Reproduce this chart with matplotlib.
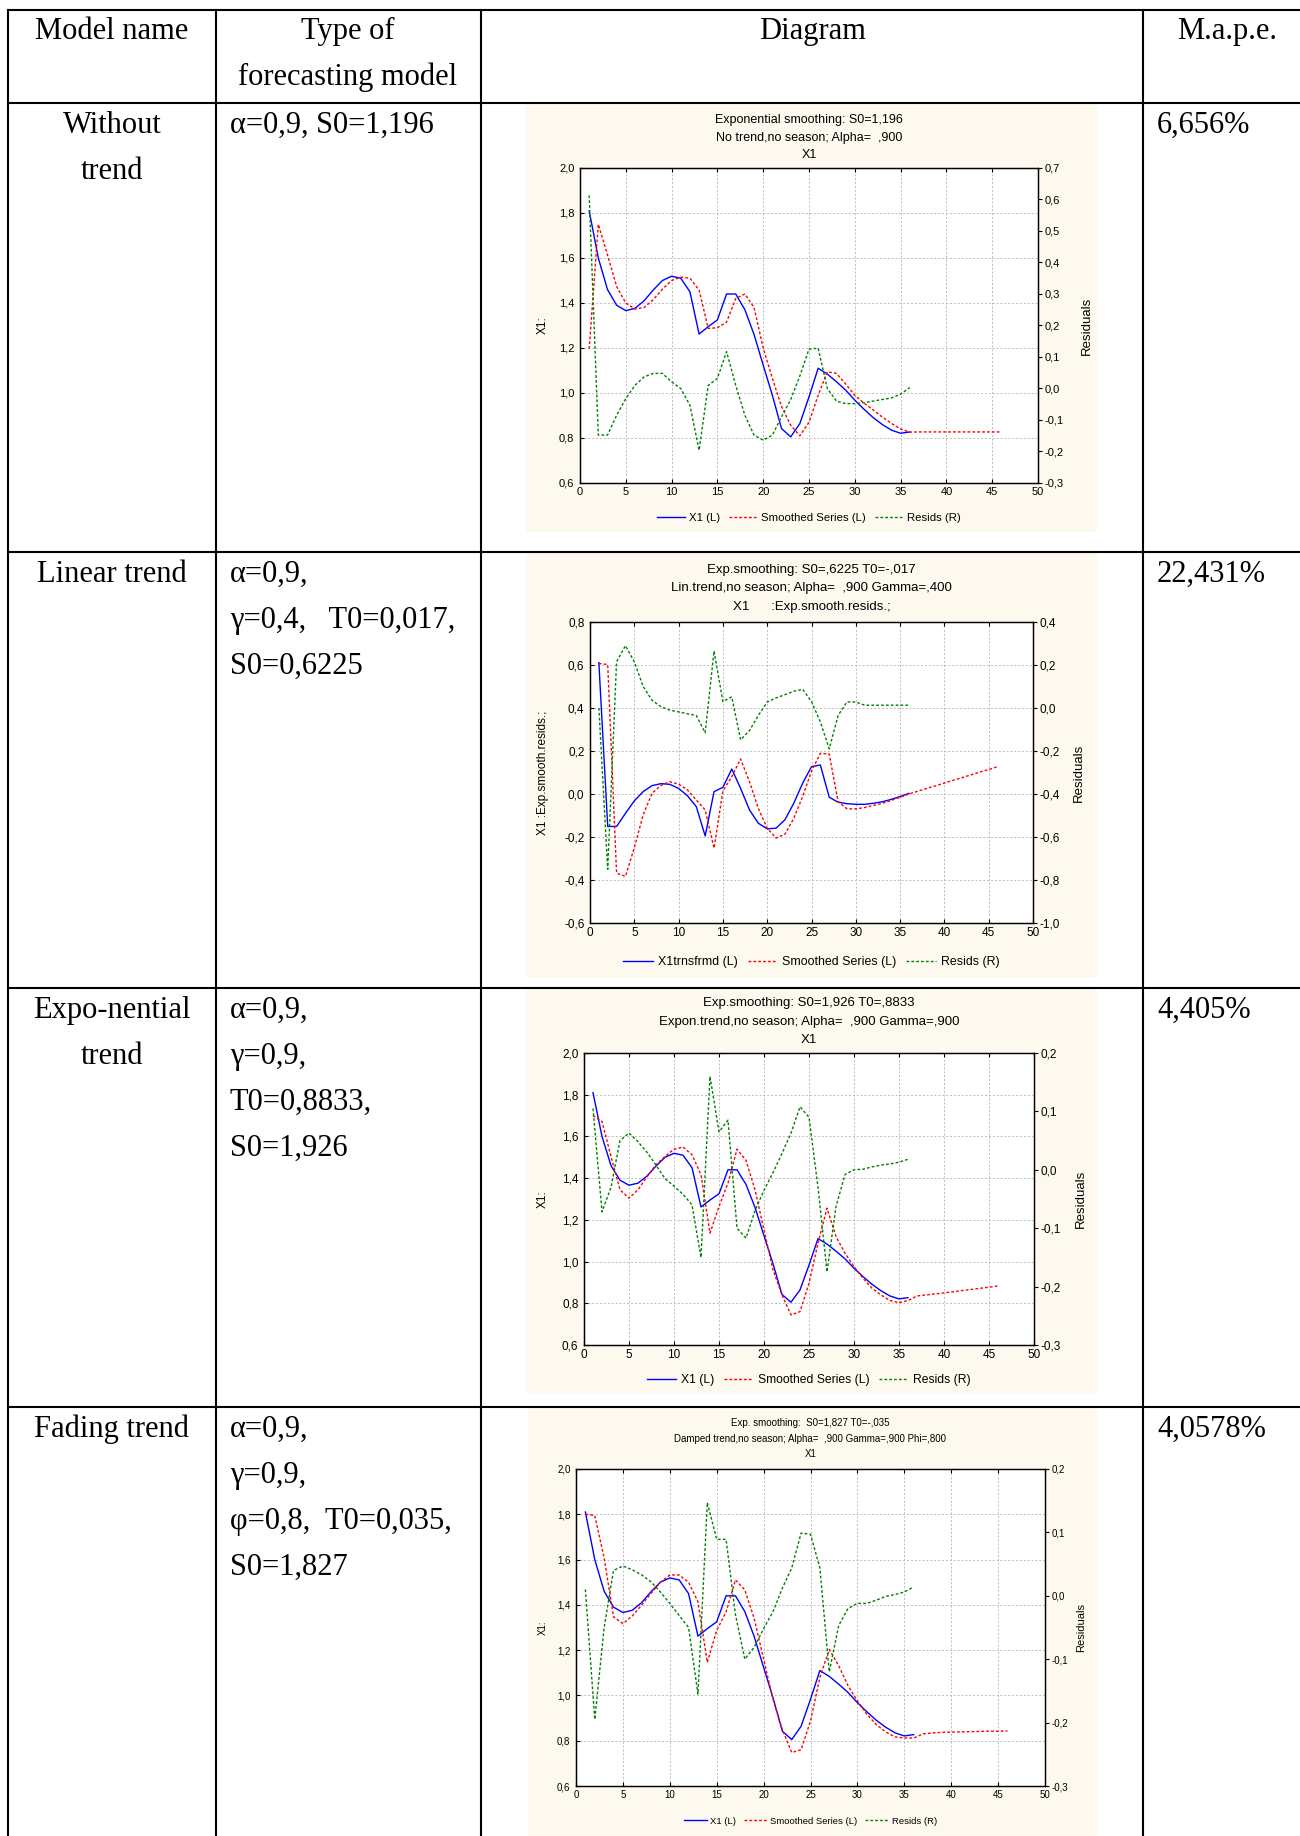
import matplotlib.pyplot as plt
from matplotlib.ticker import FuncFormatter, MultipleLocator

# ---- data ----
t_obs = list(range(1, 37))
t_fc = list(range(1, 47))

x1 = [1.81, 1.60, 1.46, 1.39, 1.366, 1.376, 1.41, 1.458, 1.50, 1.519, 1.51, 1.45,
      1.262, 1.295, 1.325, 1.44, 1.44, 1.37, 1.26, 1.124, 0.99, 0.842, 0.805, 0.864,
      0.983, 1.11, 1.084, 1.05, 1.013, 0.968, 0.928, 0.891, 0.86, 0.835, 0.821, 0.827]

# row 1 - no trend
smooth_1 = [1.196, 1.75, 1.614, 1.473, 1.40, 1.373, 1.38, 1.415, 1.462, 1.50, 1.515, 1.51,
            1.458, 1.287, 1.29, 1.315, 1.42, 1.44, 1.38, 1.20, 1.065, 0.94, 0.857, 0.81,
            0.87, 0.99, 1.094, 1.087, 1.04, 0.99, 0.955, 0.925, 0.893, 0.865, 0.84, 0.826,
            0.827, 0.827, 0.827, 0.827, 0.827, 0.827, 0.827, 0.827, 0.827, 0.827]
resid_1 = [0.613, -0.148, -0.148, -0.085, -0.032, 0.01, 0.037, 0.048, 0.048, 0.021, 0.0, -0.053,
           -0.196, 0.01, 0.032, 0.117, 0.01, -0.085, -0.148, -0.164, -0.148, -0.09, -0.035, 0.04,
           0.125, 0.128, 0.0, -0.04, -0.048, -0.048, -0.045, -0.04, -0.035, -0.03, -0.018, 0.003]

# row 2 - linear trend
x1_trans = [0.611, -0.151, -0.151, -0.09, -0.032, 0.011, 0.039, 0.048, 0.045, 0.026, -0.008, -0.059,
            -0.195, 0.011, 0.031, 0.116, 0.026, -0.074, -0.136, -0.162, -0.159, -0.12, -0.043, 0.05,
            0.127, 0.135, -0.015, -0.038, -0.045, -0.048, -0.048, -0.043, -0.036, -0.025, -0.012, 0.003]
smooth_2 = [0.607, 0.602, -0.368, -0.383, -0.25, -0.097, 0.003, 0.04, 0.057, 0.046, 0.019, -0.028,
            -0.074, -0.252, 0.014, 0.081, 0.163, 0.057, -0.067, -0.159, -0.205, -0.187, -0.113, -0.012,
            0.107, 0.189, 0.186, -0.035, -0.069, -0.069, -0.063, -0.053, -0.043, -0.03, -0.015, 0.0,
            0.013, 0.026, 0.038, 0.051, 0.064, 0.076, 0.089, 0.102, 0.114, 0.127]
resid_2 = [0.0, -0.75, 0.215, 0.29, 0.215, 0.10, 0.036, 0.006, -0.01, -0.018, -0.027, -0.035,
           -0.115, 0.265, 0.03, 0.052, -0.148, -0.105, -0.035, 0.028, 0.047, 0.062, 0.078, 0.087,
           0.03, -0.065, -0.19, -0.035, 0.028, 0.028, 0.013, 0.013, 0.013, 0.013, 0.013, 0.013]

# row 3 - exponential trend
smooth_3 = [1.70, 1.672, 1.504, 1.344, 1.304, 1.344, 1.408, 1.464, 1.504, 1.539, 1.549, 1.512,
            1.416, 1.136, 1.264, 1.376, 1.539, 1.485, 1.344, 1.152, 0.96, 0.84, 0.744, 0.76,
            0.896, 1.088, 1.256, 1.12, 1.04, 0.976, 0.92, 0.872, 0.84, 0.813, 0.803, 0.813,
            0.835, 0.840, 0.845, 0.850, 0.855, 0.861, 0.866, 0.872, 0.877, 0.883]
resid_3 = [0.105, -0.072, -0.03, 0.05, 0.063, 0.048, 0.03, 0.008, -0.015, -0.028, -0.042, -0.06,
           -0.15, 0.16, 0.065, 0.085, -0.10, -0.117, -0.07, -0.035, -0.005, 0.028, 0.063, 0.108,
           0.09, -0.03, -0.175, -0.063, -0.008, 0.0, 0.001, 0.005, 0.008, 0.01, 0.013, 0.018]

# row 4 - damped trend
smooth_4 = [1.80, 1.795, 1.607, 1.347, 1.317, 1.351, 1.399, 1.451, 1.50, 1.532, 1.532, 1.50,
            1.414, 1.146, 1.287, 1.369, 1.51, 1.466, 1.339, 1.161, 0.983, 0.849, 0.748, 0.76,
            0.887, 1.08, 1.203, 1.132, 1.043, 0.976, 0.917, 0.872, 0.839, 0.817, 0.812, 0.812,
            0.83, 0.834, 0.837, 0.838, 0.839, 0.840, 0.841, 0.842, 0.842, 0.843]
resid_4 = [0.01, -0.195, -0.05, 0.04, 0.047, 0.041, 0.033, 0.022, 0.006, -0.012, -0.031, -0.05,
           -0.155, 0.147, 0.089, 0.089, -0.03, -0.10, -0.081, -0.052, -0.025, 0.012, 0.044, 0.099,
           0.097, 0.044, -0.12, -0.047, -0.02, -0.012, -0.012, -0.007, -0.001, 0.002, 0.006, 0.014]

# table texts
header = ['Model name', 'Type of', 'forecasting model', 'Diagram', 'M.a.p.e.']
model_names = [['Without', 'trend'], ['Linear trend'], ['Expo-nential', 'trend'], ['Fading trend']]
model_params = [['α=0,9, S0=1,196'],
                ['α=0,9,', 'γ=0,4,   T0=0,017,', 'S0=0,6225'],
                ['α=0,9,', 'γ=0,9,', 'T0=0,8833,', 'S0=1,926'],
                ['α=0,9,', 'γ=0,9,', 'φ=0,8,  T0=0,035,', 'S0=1,827']]
mape = ['6,656%', '22,431%', '4,405%', '4,0578%']

chart_titles = [
    ['Exponential smoothing: S0=1,196', 'No trend,no season; Alpha=  ,900', 'X1'],
    ['Exp.smoothing: S0=,6225 T0=-,017', 'Lin.trend,no season; Alpha=  ,900 Gamma=,400',
     'X1      :Exp.smooth.resids.;'],
    ['Exp.smoothing: S0=1,926 T0=,8833', 'Expon.trend,no season; Alpha=  ,900 Gamma=,900', 'X1'],
    ['Exp. smoothing:  S0=1,827 T0=-,035', 'Damped trend,no season; Alpha=  ,900 Gamma=,900 Phi=,800', 'X1'],
]
blue_labels = ['X1 (L)', 'X1trnsfrmd (L)', 'X1 (L)', 'X1 (L)']
left_labels = ['X1:', 'X1 :Exp.smooth.resids.;', 'X1:', 'X1:']
blue_series = [x1, x1_trans, x1, x1]
red_series = [smooth_1, smooth_2, smooth_3, smooth_4]
green_series = [resid_1, resid_2, resid_3, resid_4]
left_lims = [(0.6, 2.0), (-0.6, 0.8), (0.6, 2.0), (0.6, 2.0)]
right_lims = [(-0.3, 0.7), (-1.0, 0.4), (-0.3, 0.2), (-0.3, 0.2)]
right_steps = [0.1, 0.2, 0.1, 0.1]

# ---- layout (pixels) ----
W, H = 1300, 1836
fig = plt.figure(figsize=(13, 18.36), dpi=100)
bg = fig.add_axes([0, 0, 1, 1])
bg.set_xlim(0, W)
bg.set_ylim(H, 0)
bg.axis('off')

col_x = [8, 216, 481, 1143]
row_y = [10, 103, 552, 988, 1407]
panels = [(526, 104, 1097, 532), (526, 553, 1097, 977), (526, 989, 1097, 1394), (528, 1408, 1097, 1836)]
axes_box = [(580, 168, 1038, 483), (590, 622, 1033, 923), (584, 1053, 1034, 1345), (576, 1469, 1045, 1786)]
title_y = [(120, 138, 155), (570, 588, 607), (1003, 1022, 1040), (1423, 1439, 1454)]
legend_y = [518, 962, 1380, 1821]
lab_x = [(543, 1087), (543, 1079), (543, 1081), (543, 1081)]
tick_fs = [8, 8.5, 8.5, 7]
title_fs = [9, 9.5, 9.5, 7]
legend_fs = [8.2, 8.9, 8.7, 6.8]
label_fs = [9.5, 9.5, 9.5, 8]

for p in panels:
    bg.add_patch(plt.Rectangle((p[0], p[1]), p[2] - p[0], p[3] - p[1],
                               facecolor='#fdf9ee', edgecolor='none', zorder=0))

lw = 1.5
for y in row_y:
    bg.plot([col_x[0], W], [y, y], color='black', lw=lw, zorder=5)
for x in col_x:
    bg.plot([x, x], [row_y[0], H], color='black', lw=lw, zorder=5)

serif = 'Liberation Serif'
tfs = 22
line_h = 46
bg.text(112, 39, header[0], ha='center', va='baseline', fontsize=tfs, family=serif)
bg.text(348, 39, header[1], ha='center', va='baseline', fontsize=tfs, family=serif)
bg.text(348, 39 + line_h, header[2], ha='center', va='baseline', fontsize=tfs, family=serif)
bg.text(812, 39, header[3], ha='center', va='baseline', fontsize=tfs, family=serif)
bg.text(1227, 39, header[4], ha='center', va='baseline', fontsize=tfs, family=serif)

for i in range(4):
    base = row_y[i + 1] + 30
    for k, s in enumerate(model_names[i]):
        bg.text(112, base + k * line_h, s, ha='center', va='baseline', fontsize=tfs, family=serif)
    for k, s in enumerate(model_params[i]):
        bg.text(230, base + k * line_h, s, ha='left', va='baseline', fontsize=tfs, family=serif)
    bg.text(1157, base, mape[i], ha='left', va='baseline', fontsize=tfs, family=serif)


def comma(v, pos):
    return f'{v:.1f}'.replace('.', ',')


sans = 'Liberation Sans'
for i in range(4):
    L, T, R, B = axes_box[i]
    fs = tick_fs[i]
    ax = fig.add_axes([L / W, 1 - B / H, (R - L) / W, (B - T) / H])
    ax.set_zorder(3)
    ax2 = ax.twinx()

    hb, = ax.plot(t_obs, blue_series[i], color='#0000ff', lw=1.0, label=blue_labels[i])
    hr, = ax.plot(t_fc, red_series[i], color='#ff0000', lw=1.0, dashes=(2, 1.5),
                  label='Smoothed Series (L)')
    hg, = ax2.plot(t_obs, green_series[i], color='#008000', lw=1.0, dashes=(2, 1.5),
                   label='Resids (R)')

    ax.set_xlim(0, 50)
    ax.set_ylim(*left_lims[i])
    ax2.set_ylim(*right_lims[i])
    ax.xaxis.set_major_locator(MultipleLocator(5))
    ax.yaxis.set_major_locator(MultipleLocator(0.2))
    ax2.yaxis.set_major_locator(MultipleLocator(right_steps[i]))
    ax.yaxis.set_major_formatter(FuncFormatter(comma))
    ax2.yaxis.set_major_formatter(FuncFormatter(comma))
    ax.grid(True, color='#bcbcbc', lw=0.7, dashes=(2, 2))
    ax.tick_params(axis='both', direction='in', length=3, labelsize=fs, width=0.8, top=True)
    ax.tick_params(axis='y', pad=4)
    ax.tick_params(axis='x', pad=3)
    ax2.tick_params(axis='y', direction='out', length=3, labelsize=fs, pad=1.5, width=0.8)
    for a in (ax, ax2):
        for sp in a.spines.values():
            sp.set_linewidth(0.9)
        for lab in a.get_xticklabels() + a.get_yticklabels():
            lab.set_family(sans)

    cx = (L + R) / 2
    for k, s in enumerate(chart_titles[i]):
        bg.text(cx, title_y[i][k], s, ha='center', va='center', fontsize=title_fs[i], family=sans)
    bg.text(lab_x[i][0], (T + B) / 2, left_labels[i], rotation=90, ha='center', va='center',
            fontsize=label_fs[i] - 1, family=sans)
    bg.text(lab_x[i][1], (T + B) / 2, 'Residuals', rotation=90, ha='center', va='center',
            fontsize=label_fs[i], family=sans)

    fig.legend(handles=[hb, hr, hg], loc='center', bbox_to_anchor=(cx / W, 1 - legend_y[i] / H),
               ncol=3, frameon=False, prop={'family': sans, 'size': legend_fs[i]},
               handlelength=2.4, handletextpad=0.4, columnspacing=0.8, borderpad=0)

fig.savefig('out.png', dpi=100)
